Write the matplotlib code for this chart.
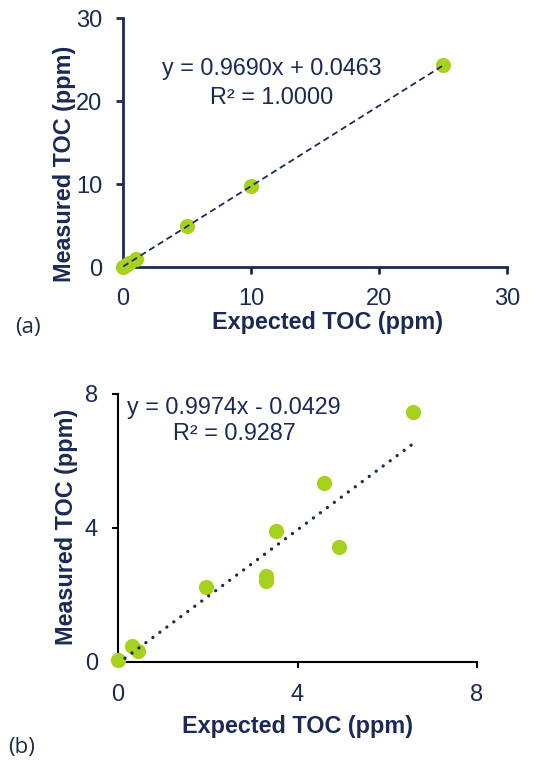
import matplotlib
matplotlib.use("Agg")
import matplotlib.pyplot as plt
import numpy as np

plt.rcParams['font.family'] = ['Liberation Sans', 'DejaVu Sans']

# ---- data ----
a_expected = [0, 0.25, 0.5, 1, 5, 10, 25]
a_measured = [0.0, 0.27, 0.5, 1.0, 4.9, 9.8, 24.3]
a_slope, a_intercept, a_r2 = 0.9690, 0.0463, 1.0000
a_ticks = [0, 10, 20, 30]

b_expected = [0, 0.32, 0.45, 1.97, 3.29, 3.29, 3.51, 4.60, 4.93, 6.57]
b_measured = [0.05, 0.48, 0.34, 2.23, 2.58, 2.43, 3.90, 5.35, 3.43, 7.46]
b_slope, b_intercept, b_r2 = 0.9974, -0.0429, 0.9287
b_ticks = [0, 4, 8]

NAVY = '#1b2a55'
GREEN = '#a6d21e'
W, H = 533, 761

fig = plt.figure(figsize=(W / 100, H / 100), dpi=100)

def style_axes(ax, spine_color, lw, ticklen, pad_x, pad_y):
    for s in ['top', 'right']:
        ax.spines[s].set_visible(False)
    for s in ['left', 'bottom']:
        ax.spines[s].set_color(spine_color)
        ax.spines[s].set_linewidth(lw)
    ax.tick_params(axis='both', direction='out', length=ticklen, width=lw,
                   color=spine_color, labelcolor=NAVY, labelsize=17)
    ax.tick_params(axis='x', pad=pad_x)
    ax.tick_params(axis='y', pad=pad_y)

# ---- (a) ----
ax1 = fig.add_axes([123 / W, 1 - 267 / H, (507 - 123) / W, (267 - 18) / H])
ax1.scatter(a_expected, a_measured, s=120, color=GREEN, zorder=3, clip_on=False, linewidths=0)
xa = np.array([min(a_expected), max(a_expected)])
ax1.plot(xa, a_slope * xa + a_intercept, color=NAVY, lw=1.3, linestyle=(0, (3.5, 2.2)), zorder=4)
ax1.set_xlim(0, 30)
ax1.set_ylim(0, 30)
ax1.set_xticks(a_ticks)
ax1.set_yticks(a_ticks)
style_axes(ax1, NAVY, 2.0, 5, 10, 10)
fig.text(272 / W, 1 - 69 / H, f"y = {a_slope:.4f}x + {a_intercept:.4f}", ha='center', va='center',
         fontsize=16.8, color=NAVY)
fig.text(272 / W, 1 - 97 / H, f"R² = {a_r2:.4f}", ha='center', va='center', fontsize=16.8, color=NAVY)
fig.text(64 / W, 1 - 164 / H, "Measured TOC (ppm)", rotation=90, ha='center', va='center',
         fontsize=16.8, fontweight='bold', color=NAVY)
fig.text(328 / W, 1 - 322 / H, "Expected TOC (ppm)", ha='center', va='center',
         fontsize=16.8, fontweight='bold', color=NAVY)
fig.text(28 / W, 1 - 327 / H, "(a)", ha='center', va='center', fontsize=16,
         color='#1f2a44', family=['Open Sans', 'DejaVu Sans'])

# ---- (b) ----
ax2 = fig.add_axes([118 / W, 1 - 662 / H, (477 - 118) / W, (662 - 394) / H])
ax2.scatter(b_expected, b_measured, s=120, color=GREEN, zorder=3, clip_on=False, linewidths=0)
xb = np.array([min(b_expected), max(b_expected)])
ax2.plot(xb, b_slope * xb + b_intercept, color=NAVY, lw=2.4, linestyle=(0, (0.01, 2.6)),
         dash_capstyle='round', zorder=4)
ax2.set_xlim(0, 8)
ax2.set_ylim(0, 8)
ax2.set_xticks(b_ticks)
ax2.set_yticks(b_ticks)
style_axes(ax2, 'black', 1.5, 4.5, 11, 10)
sign = '-' if b_intercept < 0 else '+'
fig.text(234 / W, 1 - 407 / H, f"y = {b_slope:.4f}x {sign} {abs(b_intercept):.4f}", ha='center',
         va='center', fontsize=16.8, color=NAVY)
fig.text(234 / W, 1 - 433 / H, f"R² = {b_r2:.4f}", ha='center', va='center', fontsize=16.8, color=NAVY)
fig.text(66 / W, 1 - 526.5 / H, "Measured TOC (ppm)", rotation=90, ha='center', va='center',
         fontsize=16.8, fontweight='bold', color=NAVY)
fig.text(298 / W, 1 - 726 / H, "Expected TOC (ppm)", ha='center', va='center',
         fontsize=16.8, fontweight='bold', color=NAVY)
fig.text(22 / W, 1 - 747 / H, "(b)", ha='center', va='center', fontsize=16,
         color='#1f2a44', family=['Open Sans', 'DejaVu Sans'])

fig.savefig("out.png", dpi=100)
